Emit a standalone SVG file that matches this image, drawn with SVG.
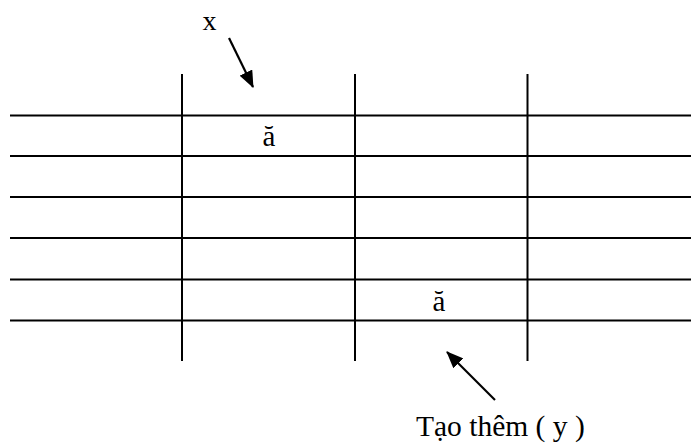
<svg xmlns="http://www.w3.org/2000/svg" width="691" height="446" viewBox="0 0 691 446">
<style>
.g line{stroke:#000;stroke-width:2}
.t{font-family:"Liberation Serif","Times New Roman",serif;fill:#000}
.c line{stroke:#000;stroke-width:2.2}
</style>
<defs>
<marker id="ah" markerWidth="17" markerHeight="14" refX="16" refY="7" orient="auto" markerUnits="userSpaceOnUse">
<path d="M0,0 L17,7 L0,14 Z" fill="#000"/>
</marker>
</defs>
<rect width="691" height="446" fill="#fff"/>
<g id="grid" class="g">
<line x1="10" y1="115.5" x2="691" y2="115.5"/>
<line x1="10" y1="156" x2="691" y2="156"/>
<line x1="10" y1="197" x2="691" y2="197"/>
<line x1="10" y1="238" x2="691" y2="238"/>
<line x1="10" y1="279.5" x2="691" y2="279.5"/>
<line x1="10" y1="320.5" x2="691" y2="320.5"/>
<line x1="182" y1="74" x2="182" y2="361"/>
<line x1="355" y1="74" x2="355" y2="361"/>
<line x1="527.5" y1="74" x2="527.5" y2="361"/>
</g>
<g id="cell1"><text class="t" x="269" y="146" font-size="29" text-anchor="middle">ă</text></g>
<g id="cell2"><text class="t" x="439" y="311" font-size="29" text-anchor="middle">ă</text></g>
<g id="labelx"><text class="t" x="209.5" y="30" font-size="28" text-anchor="middle">x</text></g>
<g id="labely"><text class="t" x="416" y="436" font-size="29.5">Tạo thêm ( y )</text></g>
<g id="connectors" class="c">
<line x1="229" y1="38" x2="253" y2="87" marker-end="url(#ah)"/>
<line x1="495" y1="400" x2="447" y2="352" marker-end="url(#ah)"/>
</g>
</svg>
